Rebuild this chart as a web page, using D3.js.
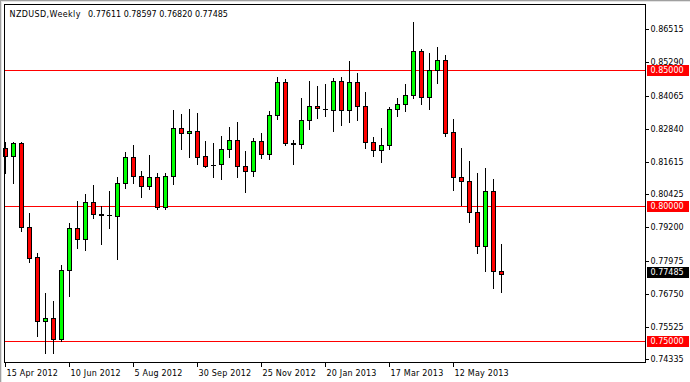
<!DOCTYPE html>
<html>
<head>
<meta charset="utf-8">
<script src="https://cdn.jsdelivr.net/npm/d3@7/dist/d3.min.js"></script>
<style>
  html, body { margin: 0; padding: 0; background: #fff; }
  svg { display: block; }
  text { font-family: "DejaVu Sans", Verdana, sans-serif; font-size: 8px; fill: #000; }
</style>
</head>
<body>
<svg id="chart" width="690" height="382"></svg>
<script>
// ---- Data (weekly NZDUSD) ----
const dates = ["2012-04-15","2012-04-22","2012-04-29","2012-05-06","2012-05-13","2012-05-20","2012-05-27",
  "2012-06-03","2012-06-10","2012-06-17","2012-06-24","2012-07-01","2012-07-08","2012-07-15","2012-07-22","2012-07-29",
  "2012-08-05","2012-08-12","2012-08-19","2012-08-26","2012-09-02","2012-09-09","2012-09-16","2012-09-23","2012-09-30",
  "2012-10-07","2012-10-14","2012-10-21","2012-10-28","2012-11-04","2012-11-11","2012-11-18","2012-11-25",
  "2012-12-02","2012-12-09","2012-12-16","2012-12-23","2012-12-30","2013-01-06","2013-01-13","2013-01-20","2013-01-27",
  "2013-02-03","2013-02-10","2013-02-17","2013-02-24","2013-03-03","2013-03-10","2013-03-17","2013-03-24","2013-03-31",
  "2013-04-07","2013-04-14","2013-04-21","2013-04-28","2013-05-05","2013-05-12","2013-05-19","2013-05-26",
  "2013-06-02","2013-06-09","2013-06-16","2013-06-23"];
const open  = [0.8212,0.8185,0.8231,0.7921,0.7810,0.7576,0.7585,0.7510,0.7762,0.7917,0.7876,0.8014,0.7969,0.7965,0.7964,0.8083,
  0.8179,0.8109,0.8074,0.8105,0.7995,0.8109,0.8286,0.8268,0.8276,0.8183,0.8149,0.8153,0.8211,0.8243,0.8147,0.8130,
  0.8239,0.8190,0.8334,0.8456,0.8228,0.8227,0.8316,0.8367,0.8359,0.8355,0.8459,0.8352,0.8456,0.8367,0.8234,0.8205,
  0.8223,0.8356,0.8375,0.8408,0.8571,0.8400,0.8500,0.8538,0.8272,0.8105,0.8090,0.7976,0.7851,0.8054,0.77611];
const high  = [0.8237,0.8236,0.8234,0.7975,0.7825,0.7677,0.7649,0.7782,0.7937,0.8018,0.8044,0.8077,0.7999,0.8055,0.8105,0.8197,
  0.8224,0.8128,0.8188,0.8120,0.8120,0.8354,0.8339,0.8357,0.8341,0.8239,0.8232,0.8259,0.8290,0.8308,0.8203,0.8250,
  0.8268,0.8350,0.8474,0.8468,0.8243,0.8397,0.8461,0.8442,0.8451,0.8473,0.8474,0.8534,0.8490,0.8419,0.8253,0.8286,
  0.8365,0.8397,0.8449,0.8679,0.8579,0.8563,0.8586,0.8557,0.8319,0.8212,0.8165,0.8120,0.8138,0.8099,0.78597];
const low   = [0.8120,0.8085,0.7908,0.7794,0.7521,0.7456,0.7456,0.7500,0.7668,0.7845,0.7837,0.7956,0.7859,0.7919,0.7805,0.8067,
  0.8083,0.8034,0.8061,0.7987,0.7987,0.8079,0.8209,0.8181,0.8153,0.8144,0.8107,0.8100,0.8181,0.8107,0.8052,0.8111,
  0.8175,0.8172,0.8321,0.8223,0.8155,0.8212,0.8285,0.8325,0.8333,0.8277,0.8297,0.8308,0.8316,0.8214,0.8185,0.8161,
  0.8210,0.8333,0.8350,0.8397,0.8377,0.8357,0.8453,0.8259,0.8059,0.8003,0.7939,0.7826,0.7759,0.7698,0.76820];
const close = [0.8185,0.8231,0.7921,0.7809,0.7576,0.7585,0.7510,0.7762,0.7917,0.7876,0.8014,0.7969,0.7965,0.7965,0.8083,0.8179,
  0.8109,0.8074,0.8106,0.7995,0.8109,0.8286,0.8268,0.8276,0.8181,0.8148,0.8152,0.8209,0.8243,0.8148,0.8130,0.8239,
  0.8190,0.8334,0.8456,0.8230,0.8231,0.8316,0.8367,0.8360,0.8356,0.8459,0.8355,0.8456,0.8367,0.8234,0.8205,0.8223,
  0.8356,0.8375,0.8408,0.8571,0.8400,0.8500,0.8538,0.8270,0.8105,0.8090,0.7976,0.7851,0.8054,0.7761,0.77485];

const priceTicks = [0.86515,0.85290,0.84065,0.82840,0.81615,0.80425,0.79200,0.77975,0.76750,0.75525,0.74335];
const dateTicks = ["2012-04-15","2012-06-10","2012-08-05","2012-09-30","2012-11-25","2013-01-20","2013-03-17","2013-05-12"];
const dateTickLabels = ["15 Apr 2012","10 Jun 2012","5 Aug 2012","30 Sep 2012","25 Nov 2012","20 Jan 2013","17 Mar 2013","12 May 2013"];
const levels = [0.85, 0.80, 0.75];
const levelLabels = ["0.85000","0.80000","0.75000"];
const symbol = "NZDUSD,Weekly";
const lastPrice = 0.77485;
const lastLabel = "0.77485";

// ---- Layout ----
const W = 690, H = 382;
const plot = {left: 4, top: 4, right: 645, bottom: 362};
const svg = d3.select("#chart");

const parse = d3.utcParse("%Y-%m-%d");
const t0 = parse(dates[0]);
const weekIndex = d => Math.round((parse(d) - t0) / (7 * 864e5));
const x = d3.scaleLinear().domain([0, 80]).range([5.5, 645.5]);
const y = d3.scaleLinear().domain([0.74236, 0.87447]).range([plot.bottom, plot.top]);
const snap = v => Math.round(v) + 0.5;

// outer window edge
svg.append("rect").attr("x", 0).attr("y", 0).attr("width", W).attr("height", H).attr("fill", "#fff");
svg.append("line").attr("x1", 0).attr("x2", W).attr("y1", 0.5).attr("y2", 0.5).attr("stroke", "#a0a0a0");
svg.append("line").attr("x1", 0.5).attr("x2", 0.5).attr("y1", 0).attr("y2", H).attr("stroke", "#a0a0a0");
svg.append("line").attr("x1", 1).attr("x2", W).attr("y1", 1.5).attr("y2", 1.5).attr("stroke", "#e3e3e3");
svg.append("line").attr("x1", 1.5).attr("x2", 1.5).attr("y1", 1).attr("y2", H).attr("stroke", "#e3e3e3");

// horizontal levels
const gl = svg.append("g");
levels.forEach(v => {
  gl.append("line").attr("x1", plot.left).attr("x2", plot.right)
    .attr("y1", snap(y(v))).attr("y2", snap(y(v))).attr("stroke", "#ff0000").attr("stroke-width", 1);
});

// candles
const gc = svg.append("g").attr("shape-rendering", "crispEdges");
dates.forEach((d, i) => {
  const cx = Math.floor(x(weekIndex(d))) + 0.5;
  const o = open[i], c = close[i], h = high[i], l = low[i];
  gc.append("line").attr("x1", cx).attr("x2", cx)
    .attr("y1", Math.round(y(h))).attr("y2", Math.round(y(l)) + 1)
    .attr("stroke", "#000").attr("stroke-width", 1);
  const top = Math.round(y(Math.max(o, c)));
  const bot = Math.round(y(Math.min(o, c)));
  if (bot - top < 1) {
    gc.append("line").attr("x1", cx - 2.5).attr("x2", cx + 2.5)
      .attr("y1", top + 0.5).attr("y2", top + 0.5).attr("stroke", "#000");
  } else {
    gc.append("rect").attr("x", cx - 2).attr("y", top + 0.5)
      .attr("width", 4).attr("height", bot - top)
      .attr("fill", c >= o ? "#00ff00" : "#ff0000")
      .attr("stroke", "#000").attr("stroke-width", 1);
  }
});

// plot frame
svg.append("rect").attr("x", plot.left + 0.5).attr("y", plot.top + 0.5)
  .attr("width", plot.right - plot.left).attr("height", plot.bottom - plot.top)
  .attr("fill", "none").attr("stroke", "#000").attr("shape-rendering", "crispEdges");

// price axis
const ga = svg.append("g");
priceTicks.forEach(v => {
  const yy = snap(y(v));
  ga.append("line").attr("x1", plot.right).attr("x2", plot.right + 4)
    .attr("y1", yy).attr("y2", yy).attr("stroke", "#000");
  ga.append("text").attr("x", 650.5).attr("y", yy).attr("dy", "0.35em").text(d3.format(".5f")(v));
});

// level labels
levels.forEach((v, i) => {
  const yy = snap(y(v));
  ga.append("rect").attr("x", 647).attr("y", Math.round(yy - 5.5)).attr("width", 42).attr("height", 11).attr("fill", "#ff0000");
  ga.append("text").attr("x", 650.5).attr("y", yy).attr("dy", "0.35em").style("fill", "#fff").text(levelLabels[i]);
});
// last price label
{
  const yy = snap(y(lastPrice)) - 2;
  ga.append("rect").attr("x", 647).attr("y", Math.round(yy - 5.5)).attr("width", 42).attr("height", 11).attr("fill", "#000");
  ga.append("text").attr("x", 650.5).attr("y", yy).attr("dy", "0.35em").style("fill", "#fff").text(lastLabel);
}

// date axis
const gd = svg.append("g");
dateTicks.forEach((d, i) => {
  const tx = Math.floor(x(weekIndex(d))) + 0.5;
  gd.append("line").attr("x1", tx).attr("x2", tx).attr("y1", plot.bottom).attr("y2", plot.bottom + 5).attr("stroke", "#000");
  gd.append("text").attr("x", tx + 1).attr("y", 375.5).style("letter-spacing", "0.2px").text(dateTickLabels[i]);
});

// title
svg.append("text").attr("x", 9.5).attr("y", 16.5).style("letter-spacing", "0.4px").text(symbol);
svg.append("text").attr("x", 88).attr("y", 16.5)
  .text([open[open.length-1], high[high.length-1], low[low.length-1], close[close.length-1]].map(d3.format(".5f")).join(" "));
</script>
</body>
</html>
